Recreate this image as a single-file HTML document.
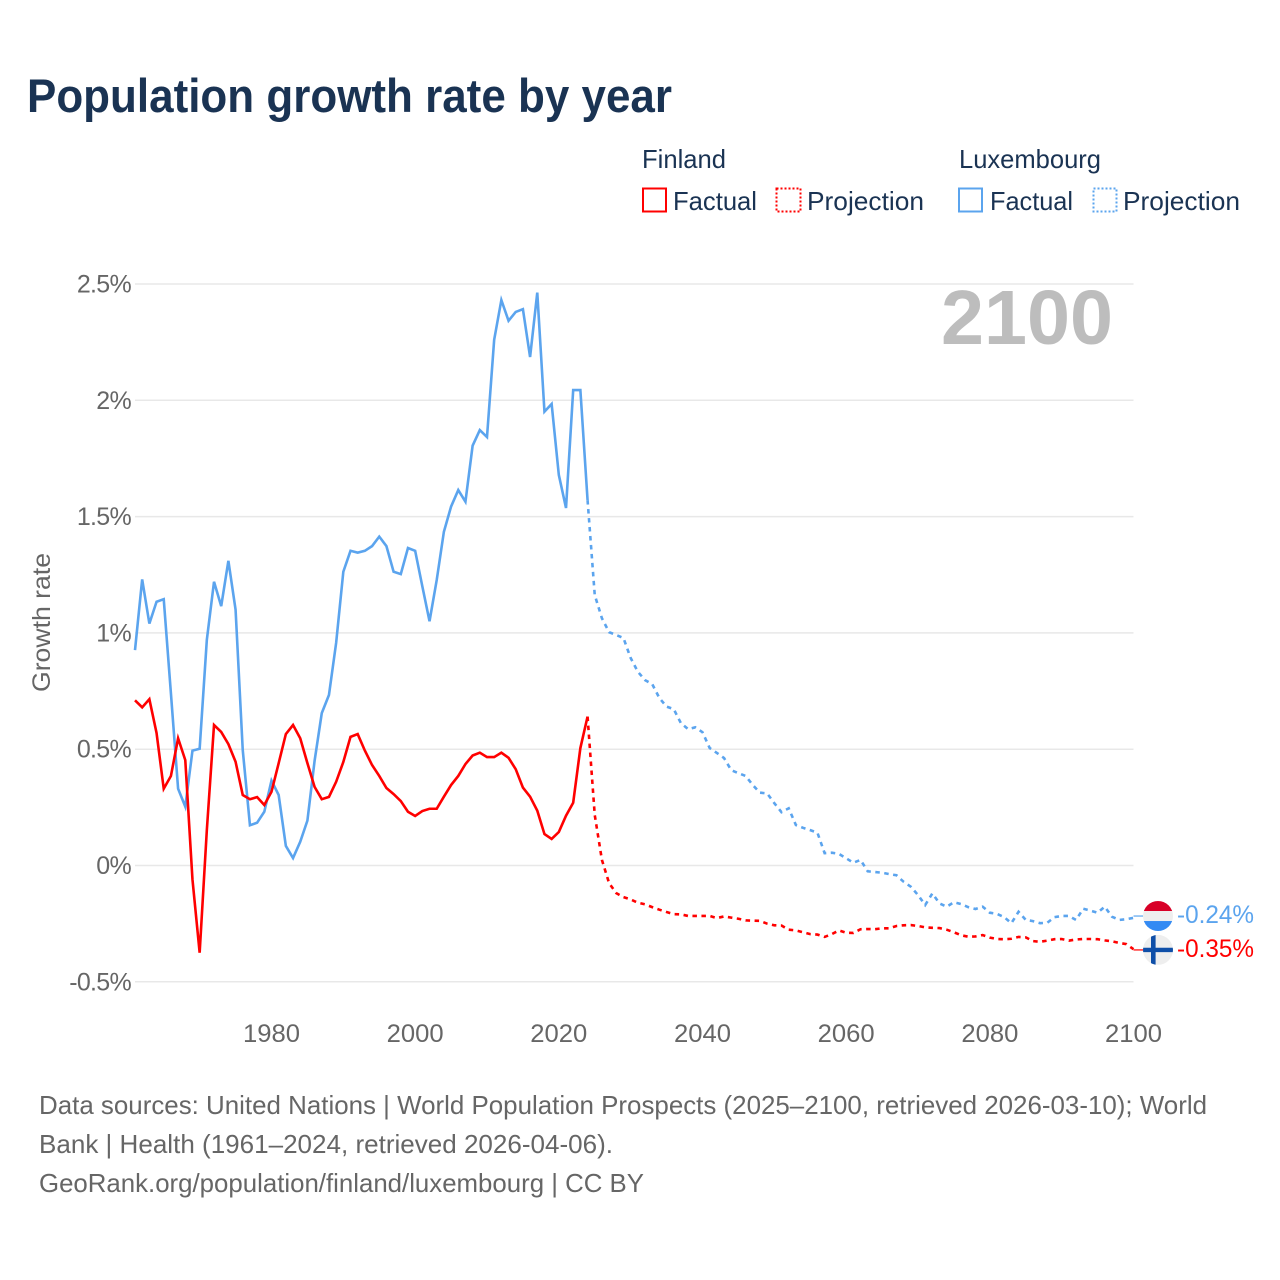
<!DOCTYPE html>
<html lang="en">
<head>
<meta charset="utf-8">
<title>Population growth rate by year</title>
<style>
html,body{margin:0;padding:0;background:#fff;}
svg{display:block;font-family:"Liberation Sans",sans-serif;}
</style>
</head>
<body>
<svg id="chart" xmlns="http://www.w3.org/2000/svg" width="1280" height="1280" viewBox="0 0 1280 1280">
  <rect x="0" y="0" width="1280" height="1280" fill="#fff"/>
  <text x="27" y="112" font-size="47" font-weight="700" fill="#1a3353" textLength="645" lengthAdjust="spacingAndGlyphs">Population growth rate by year</text>

  <g font-size="26" fill="#1a3353">
    <text x="642" y="168" textLength="84" lengthAdjust="spacingAndGlyphs">Finland</text>
    <rect x="643" y="188.500" width="23" height="23" fill="#fff" stroke="#ff0000" stroke-width="2"/>
    <text x="673" y="210" textLength="84" lengthAdjust="spacingAndGlyphs">Factual</text>
    <rect x="776.500" y="188.500" width="24" height="23" fill="#fff" stroke="#ff0000" stroke-width="2" stroke-dasharray="2 2"/>
    <text x="807" y="210" textLength="117" lengthAdjust="spacingAndGlyphs">Projection</text>
    <text x="959" y="168" textLength="142" lengthAdjust="spacingAndGlyphs">Luxembourg</text>
    <rect x="959" y="188.500" width="23" height="23" fill="#fff" stroke="#5ba4ee" stroke-width="2"/>
    <text x="990" y="210" textLength="83" lengthAdjust="spacingAndGlyphs">Factual</text>
    <rect x="1093.500" y="188.500" width="23" height="23" fill="#fff" stroke="#5ba4ee" stroke-width="2" stroke-dasharray="2 2"/>
    <text x="1123" y="210" textLength="117" lengthAdjust="spacingAndGlyphs">Projection</text>
  </g>

  <g id="grid"></g>
  <g id="yLabels"></g>
  <g id="xLabels"></g>
  <text transform="translate(50,622.500) rotate(-90)" text-anchor="middle" font-size="25" fill="#666666" textLength="139" lengthAdjust="spacingAndGlyphs">Growth rate</text>
  <text x="1113" y="344" text-anchor="end" font-size="77" font-weight="700" fill="#bdbdbd" textLength="172" lengthAdjust="spacingAndGlyphs">2100</text>

  <g id="series"></g>
  <g id="endMarkers"></g>

  <g font-size="26" fill="#666666">
    <text x="39" y="1114" textLength="1168" lengthAdjust="spacingAndGlyphs">Data sources: United Nations | World Population Prospects (2025–2100, retrieved 2026-03-10); World</text>
    <text x="39" y="1153" textLength="574" lengthAdjust="spacingAndGlyphs">Bank | Health (1961–2024, retrieved 2026-04-06).</text>
    <text x="39" y="1192" textLength="605" lengthAdjust="spacingAndGlyphs">GeoRank.org/population/finland/luxembourg | CC BY</text>
  </g>
</svg>
<script>
var factualStartYear = 1961;
var projectionStartYear = 2025;
var xTickYears = [1980, 2000, 2020, 2040, 2060, 2080, 2100];
var yTickValues = [-0.5, 0, 0.5, 1, 1.5, 2, 2.5];
var yTickLabels = ['-0.5%', '0%', '0.5%', '1%', '1.5%', '2%', '2.5%'];
var endLabels = {finland: '-0.35%', luxembourg: '-0.24%'};

var finlandFactual = [
  0.71,0.68,0.715,0.57,0.33,0.385,0.547,0.453,-0.06,-0.375,
  0.152,0.604,0.574,0.522,0.446,0.303,0.285,0.294,0.26,0.317,
  0.44,0.565,0.604,0.547,0.44,0.338,0.285,0.295,0.36,0.445,
  0.553,0.565,0.494,0.432,0.385,0.333,0.307,0.277,0.231,0.213,
  0.234,0.244,0.244,0.296,0.346,0.385,0.436,0.473,0.485,0.466,
  0.466,0.485,0.463,0.414,0.335,0.296,0.236,0.135,0.114,0.144,
  0.214,0.27,0.505,0.64
];
var luxembourgFactual = [
  0.926,1.23,1.04,1.134,1.145,0.74,0.33,0.253,0.494,0.502,
  0.97,1.22,1.115,1.31,1.10,0.496,0.173,0.184,0.231,0.365,
  0.303,0.084,0.032,0.102,0.193,0.45,0.655,0.733,0.957,1.263,
  1.353,1.345,1.353,1.373,1.414,1.373,1.263,1.253,1.365,1.353,
  1.2,1.05,1.227,1.435,1.543,1.614,1.564,1.805,1.872,1.842,
  2.26,2.431,2.342,2.38,2.392,2.186,2.463,1.951,1.984,1.679,
  1.537,2.044,2.044,1.571
];
var finlandProjection = [
  0.217,0.024,-0.076,-0.119,-0.136,-0.146,-0.16,-0.167,-0.179,-0.19,
  -0.2,-0.209,-0.21,-0.217,-0.217,-0.217,-0.217,-0.226,-0.219,-0.224,
  -0.229,-0.236,-0.237,-0.238,-0.25,-0.257,-0.258,-0.276,-0.279,-0.287,
  -0.295,-0.297,-0.307,-0.295,-0.279,-0.289,-0.29,-0.274,-0.273,-0.274,
  -0.27,-0.27,-0.26,-0.257,-0.256,-0.26,-0.266,-0.268,-0.269,-0.276,
  -0.287,-0.30,-0.306,-0.305,-0.299,-0.31,-0.316,-0.317,-0.315,-0.307,
  -0.309,-0.325,-0.328,-0.323,-0.317,-0.316,-0.323,-0.318,-0.316,-0.316,
  -0.317,-0.322,-0.326,-0.333,-0.338,-0.36
];
var luxembourgProjection = [
  1.163,1.063,1.003,0.991,0.978,0.892,0.833,0.797,0.78,0.72,
  0.683,0.672,0.612,0.586,0.594,0.573,0.505,0.484,0.462,0.41,
  0.397,0.385,0.346,0.313,0.31,0.268,0.229,0.246,0.174,0.162,
  0.152,0.141,0.053,0.055,0.05,0.031,0.012,0.024,-0.025,-0.028,
  -0.031,-0.037,-0.042,-0.07,-0.091,-0.127,-0.17,-0.12,-0.163,-0.177,
  -0.158,-0.166,-0.179,-0.187,-0.177,-0.203,-0.208,-0.222,-0.248,-0.199,
  -0.234,-0.239,-0.248,-0.246,-0.222,-0.217,-0.217,-0.234,-0.186,-0.194,
  -0.203,-0.177,-0.22,-0.234,-0.231,-0.225
];

var NS = 'http://www.w3.org/2000/svg';
function xScale(year) { return 135 + (year - 1961) * (1133.5 - 135) / (2100 - 1961); }
function yScale(value) { return 865.5 - value * 232.6; }
function make(tag, attrs, parent) {
  var el = document.createElementNS(NS, tag);
  for (var k in attrs) el.setAttribute(k, attrs[k]);
  parent.appendChild(el);
  return el;
}
function pathFrom(startYear, values) {
  var d = '';
  for (var i = 0; i < values.length; i++) {
    d += (i ? 'L' : 'M') + xScale(startYear + i).toFixed(2) + ' ' + yScale(values[i]).toFixed(2);
  }
  return d;
}

var gridGroup = document.getElementById('grid');
var yLabelGroup = document.getElementById('yLabels');
yTickValues.forEach(function (v, i) {
  var line = make('line', {x1: 135, x2: 1133.5, y1: yScale(v), y2: yScale(v), stroke: '#e8e8e8', 'stroke-width': 1.5}, gridGroup);
  
  
  var label = make('text', {x: 131, y: yScale(v) + 8.5, 'text-anchor': 'end', 'font-size': 25, 'letter-spacing': '-0.7', fill: '#666666'}, yLabelGroup);
  
  
  label.textContent = yTickLabels[i];
});

var xLabelGroup = document.getElementById('xLabels');
xTickYears.forEach(function (year) {
  var label = make('text', {x: xScale(year), y: 1042, 'text-anchor': 'middle', 'font-size': 25, fill: '#666666', textLength: 57, lengthAdjust: 'spacingAndGlyphs'}, xLabelGroup);
  
  
  label.textContent = String(year);
});

var seriesGroup = document.getElementById('series');
var common = {fill: 'none', 'stroke-width': 2.6, 'stroke-linejoin': 'miter'};
function drawLine(d, color, dash) {
  var attrs = {d: d, stroke: color};
  for (var k in common) attrs[k] = common[k];
  if (dash) attrs['stroke-dasharray'] = dash;
  return make('path', attrs, seriesGroup);
}
var lineA = drawLine(pathFrom(factualStartYear, luxembourgFactual), '#5ba4ee');


var lineB = drawLine(pathFrom(projectionStartYear - 1, [luxembourgFactual[luxembourgFactual.length - 1]].concat(luxembourgProjection)), '#5ba4ee', '4.5 4.5');


var lineC = drawLine(pathFrom(factualStartYear, finlandFactual), '#ff0000');


var lineD = drawLine(pathFrom(projectionStartYear - 1, [finlandFactual[finlandFactual.length - 1]].concat(finlandProjection)), '#ff0000', '4.5 4.5');



var markers = document.getElementById('endMarkers');
var defs = make('defs', {}, markers);
var lastLux = luxembourgProjection[luxembourgProjection.length - 1];
var lastFin = finlandProjection[finlandProjection.length - 1];
var luxY = yScale(lastLux) - 1.8;
var finY = yScale(lastFin) + 0.7;
var flagX = 1158;

var clipLux = make('clipPath', {id: 'clip-lux'}, defs);
make('circle', {cx: flagX, cy: luxY, r: 15}, clipLux);
var clipFin = make('clipPath', {id: 'clip-fin'}, defs);
make('circle', {cx: flagX, cy: finY, r: 15}, clipFin);

var luxConnector = make('line', {x1: xScale(2100), y1: luxY, x2: flagX - 15, y2: luxY, stroke: '#5ba4ee', 'stroke-width': 1.2}, markers);


var finConnector = make('line', {x1: xScale(2100), y1: finY, x2: flagX - 15, y2: finY, stroke: '#ff0000', 'stroke-width': 1.2}, markers);



var luxFlag = make('g', {'clip-path': 'url(#clip-lux)'}, markers);


make('rect', {x: flagX - 15, y: luxY - 15, width: 30, height: 10, fill: '#d80027'}, luxFlag);
make('rect', {x: flagX - 15, y: luxY - 5, width: 30, height: 10, fill: '#eeeeee'}, luxFlag);
make('rect', {x: flagX - 15, y: luxY + 5, width: 30, height: 10, fill: '#338af3'}, luxFlag);

var finFlag = make('g', {'clip-path': 'url(#clip-fin)'}, markers);


make('rect', {x: flagX - 15, y: finY - 15, width: 30, height: 30, fill: '#eeeeee'}, finFlag);
make('rect', {x: flagX - 15, y: finY - 2.2, width: 30, height: 4.4, fill: '#0f4fa8'}, finFlag);
make('rect', {x: flagX - 7, y: finY - 15, width: 4.6, height: 30, fill: '#0f4fa8'}, finFlag);

var luxLabel = make('text', {x: 1177, y: luxY + 7, 'font-size': 25, fill: '#5ba4ee', textLength: 77, lengthAdjust: 'spacingAndGlyphs'}, markers);


luxLabel.textContent = endLabels.luxembourg;
var finLabel = make('text', {x: 1177, y: finY + 7, 'font-size': 25, fill: '#ff0000', textLength: 77, lengthAdjust: 'spacingAndGlyphs'}, markers);


finLabel.textContent = endLabels.finland;
</script>
</body>
</html>
